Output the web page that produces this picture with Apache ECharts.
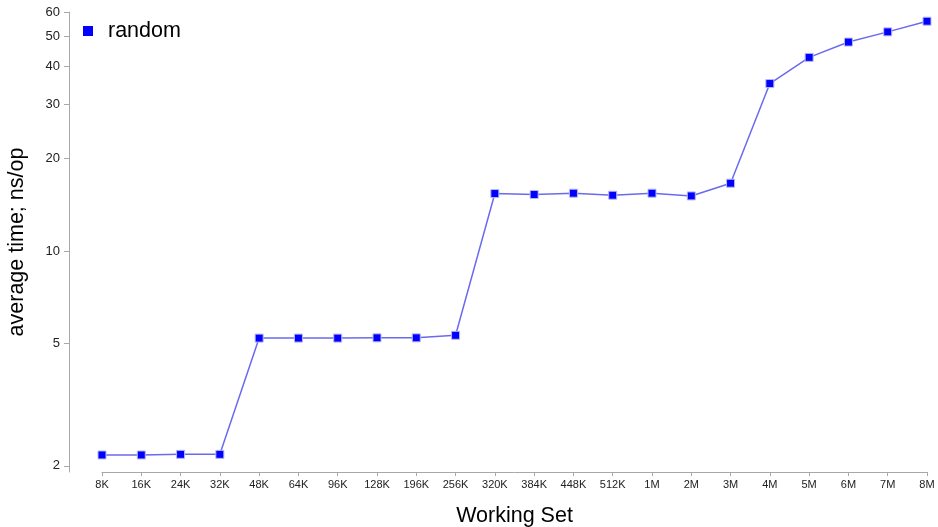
<!DOCTYPE html>
<html>
<head>
<meta charset="utf-8">
<title>random access latency</title>
<script src="https://cdn.jsdelivr.net/npm/echarts@6/dist/echarts.min.js"></script>
<style>
  html, body { margin: 0; padding: 0; background: #fff; }
  #chart { width: 938px; height: 527px; }
</style>
</head>
<body>
<div id="chart"></div>
<script>
// Working-set sizes tested
const workingSets = ['8K', '16K', '24K', '32K', '48K', '64K', '96K', '128K', '196K', '256K',
  '320K', '384K', '448K', '512K', '1M', '2M', '3M', '4M', '5M', '6M', '7M', '8M'];

// Average time per random access, ns/op
const randomNs = [2.17, 2.17, 2.18, 2.18, 5.21, 5.21, 5.21, 5.22, 5.22, 5.32,
  15.39, 15.28, 15.43, 15.2, 15.43, 15.12, 16.63, 35.1, 42.7, 47.9, 51.7, 56.0];

// Ticks shown on the log-scale value axis
const yTicks = [2, 5, 10, 20, 30, 40, 50, 60];

const FONT = 'Liberation Sans, Arial, Helvetica, sans-serif';
const AXIS_GREY = '#a8a8a8';
const TITLE_SIZE = 21.5;

const chart = echarts.init(document.getElementById('chart'), null, { renderer: 'canvas' });

chart.setOption({
  animation: false,
  textStyle: { fontFamily: FONT },
  grid: { left: 102, right: 11, top: 12, bottom: 55, containLabel: false, outerBoundsMode: 'none' },
  legend: {
    data: ['random'],
    left: 83, top: 20,
    padding: 0,
    icon: 'rect',
    itemWidth: 10, itemHeight: 10,
    itemStyle: { borderWidth: 0, color: '#0000ff' },
    textStyle: { fontSize: TITLE_SIZE, color: '#000', fontFamily: FONT, padding: [0, 0, 0, 10] }
  },
  xAxis: {
    type: 'category',
    data: workingSets,
    boundaryGap: false,
    name: 'Working Set',
    nameLocation: 'middle',
    nameGap: 33,
    nameTextStyle: { fontSize: TITLE_SIZE, color: '#000', fontFamily: FONT },
    axisLine: { show: true, lineStyle: { color: AXIS_GREY, width: 1 } },
    axisTick: { show: true, length: 4, lineStyle: { color: AXIS_GREY } },
    axisLabel: { fontSize: 11, color: '#222', margin: 7, interval: 0, fontFamily: FONT },
    splitLine: { show: false }
  },
  yAxis: {
    type: 'log',
    logBase: 10,
    min: 1.91,
    max: 60,
    offset: 33,
    name: 'average time; ns/op',
    nameLocation: 'middle',
    nameGap: 41,
    nameRotate: 90,
    nameTextStyle: { fontSize: TITLE_SIZE, color: '#000', fontFamily: FONT },
    axisLine: { show: true, lineStyle: { color: AXIS_GREY, width: 1 } },
    axisTick: { show: true, length: 5, customValues: yTicks, lineStyle: { color: AXIS_GREY } },
    axisLabel: { fontSize: 13, color: '#222', margin: 9, customValues: yTicks, fontFamily: FONT },
    minorTick: { show: false },
    splitLine: { show: false }
  },
  series: [{
    name: 'random',
    type: 'line',
    data: randomNs,
    symbol: 'rect',
    symbolSize: 8,
    itemStyle: { color: '#0000ff', borderColor: '#b8b8f4', borderWidth: 1 },
    lineStyle: { color: '#6a6af0', width: 1.5 },
    emphasis: { disabled: true }
  }]
});
</script>
</body>
</html>
